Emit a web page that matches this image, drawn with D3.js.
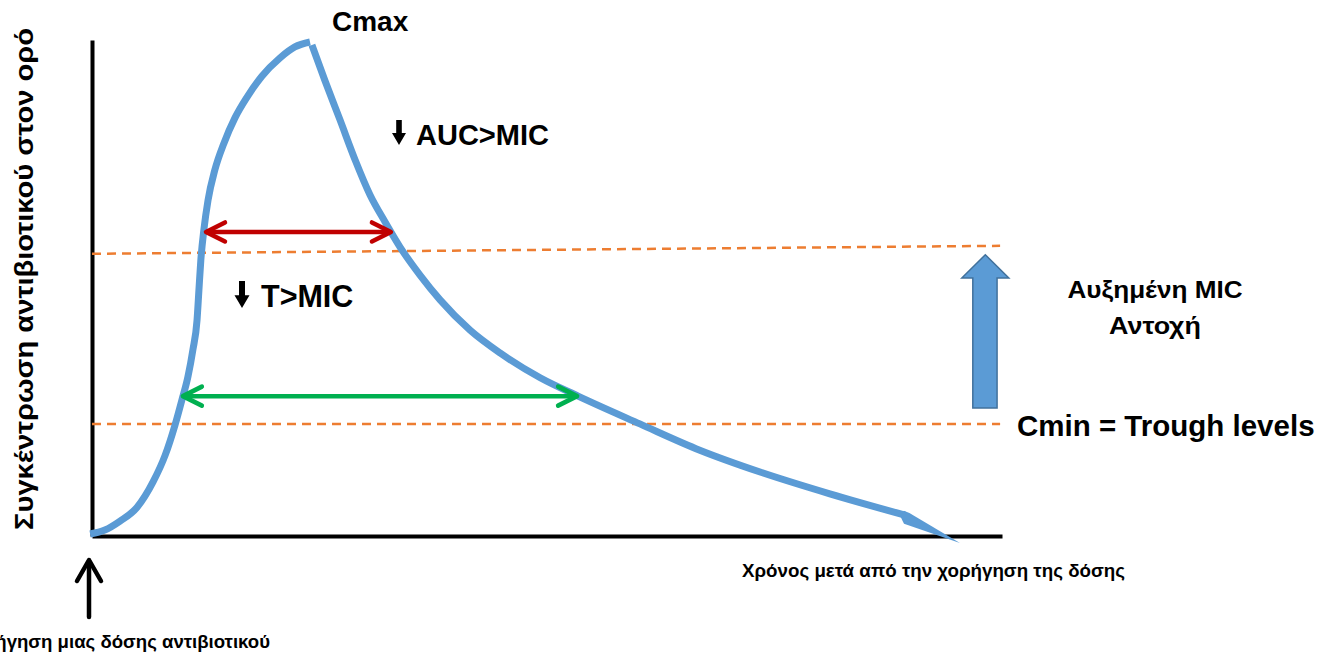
<!DOCTYPE html>
<html>
<head>
<meta charset="utf-8">
<script src="https://cdn.jsdelivr.net/npm/d3@7"></script>
<style>
  html, body { margin: 0; padding: 0; background: #fff; }
  svg { display: block; }
  text { font-family: "Liberation Sans", Arial, sans-serif; font-weight: bold; fill: #000; }
</style>
</head>
<body>
<svg id="chart" width="1324" height="657"></svg>
<script>
// ---- Data (time in h, concentration in arbitrary units) ----
const risingTime  = [-0.05, 0.34, 0.74, 1.19, 1.61, 1.93, 2.19, 2.37, 2.53, 2.66, 2.77, 2.82, 2.87, 2.95, 3.06, 3.24, 3.48, 3.77, 4.09, 4.48, 4.96, 5.35, 5.75];
const risingConc  = [0.4, 1.2, 3.0, 5.8, 10.9, 16.3, 22.4, 27.4, 32.1, 37.5, 43.5, 49.6, 55.6, 61.7, 67.7, 73.8, 79.2, 84.3, 88.5, 92.7, 96.4, 98.6, 99.6];
const fallingTime = [5.80, 6.14, 6.54, 6.94, 7.33, 7.73, 8.12, 8.65, 9.18, 9.97, 10.76, 11.82, 12.82, 14.45, 16.03, 17.62, 19.46, 21.44, 22.89];
const fallingConc = [99.0, 91.9, 83.9, 75.8, 68.8, 63.3, 58.3, 52.6, 47.6, 41.5, 36.9, 31.9, 28.2, 22.6, 17.3, 12.9, 8.5, 4.2, -1.4];

const micLevels   = [[56.9, 58.5], [22.6, 22.6]];   // [start, end] concentration of dashed lines
const micSpan     = [0, 23.95];

const intervalNames = ["T>MIC (high MIC)", "T>MIC (trough)"];
const intervalConc  = [61.3, 28.2];
const intervalStart = [2.98, 2.37];
const intervalEnd   = [7.91, 12.82];
const intervalColor = ["#c00000", "#00b050"];

const resistanceFrom = 25.8;   // conc. at base of block arrow
const resistanceTo   = 56.7;   // conc. at tip of block arrow
const resistanceTime = [22.94, 23.23, 23.87, 24.18]; // head-left, shaft-left, shaft-right, head-right

const labels = {
  cmax: "Cmax",
  auc: "AUC>MIC",
  tmic: "T>MIC",
  mic1: "Αυξημένη MIC",
  mic2: "Αντοχή",
  cmin: "Cmin = Trough levels",
  xTitle: "Χρόνος μετά από την χορήγηση της δόσης",
  yTitle: "Συγκέντρωση αντιβιοτικού στον ορό",
  dose: "Χορήγηση μιας δόσης αντιβιοτικού"
};

// ---- Scales ----
const x = d3.scaleLinear().domain([0, 24]).range([92, 1002]);
const y = d3.scaleLinear().domain([0, 100]).range([536, 40]);

const svg = d3.select("#chart");
const blue = "#5b9bd5";

// axes (no ticks)
svg.append("g").attr("transform", `translate(${x(0)},0)`)
  .call(d3.axisLeft(y).tickValues([]).tickSizeOuter(0))
  .call(g => g.select(".domain").attr("stroke", "#000").attr("stroke-width", 4));
svg.append("g").attr("transform", `translate(0,${y(0)})`)
  .call(d3.axisBottom(x.copy().domain([-0.1, 24])).tickValues([]).tickSizeOuter(0))
  .call(g => g.select(".domain").attr("stroke", "#000").attr("stroke-width", 4));

// MIC dashed lines
micLevels.forEach(lv => {
  svg.append("line")
    .attr("x1", x(micSpan[0])).attr("y1", y(lv[0]))
    .attr("x2", x(micSpan[1])).attr("y2", y(lv[1]))
    .attr("stroke", "#ed7d31").attr("stroke-width", 2.5)
    .attr("stroke-dasharray", "9,6");
});

// concentration curve
const line = d3.line().x(d => x(d[0])).y(d => y(d[1])).curve(d3.curveMonotoneX);
const rising = risingTime.map((t, i) => [t, risingConc[i]]);
const fallingAll = fallingTime.map((t, i) => [t, fallingConc[i]]);
svg.append("path").attr("d", line(rising))
  .attr("fill", "none").attr("stroke", blue).attr("stroke-width", 7);

// falling branch ending in a tapered arrow head
const tip = fallingAll[fallingAll.length - 1];
const prev = fallingAll[fallingAll.length - 2];
const tx = x(tip[0]), ty = y(tip[1]);
const px = x(prev[0]), py = y(prev[1]);
const len = Math.hypot(tx - px, ty - py);
const ux = (tx - px) / len, uy = (ty - py) / len;
const bx = px + ux * 3, by = py + uy * 3;
const falling = fallingAll.slice(0, -1);
svg.append("path").attr("d", line(falling))
  .attr("fill", "none").attr("stroke", blue).attr("stroke-width", 7);
const nx = -uy, ny = ux;
svg.append("path")
  .attr("d", `M${tx},${ty} L${bx + nx * 8},${by + ny * 8} L${bx - ux * 6 + nx * 3.5},${by - uy * 6 + ny * 3.5} L${bx - ux * 6 - nx * 3.5},${by - uy * 6 - ny * 3.5} L${bx - nx * 4},${by - ny * 4} Z`)
  .attr("fill", blue);

// interval double arrows
intervalNames.forEach((n, i) => {
  const yy = y(intervalConc[i]);
  const x1 = x(intervalStart[i]), x2 = x(intervalEnd[i]);
  const g = svg.append("g").attr("stroke", intervalColor[i]).attr("stroke-width", 4.5)
    .attr("fill", "none").attr("stroke-linecap", "round").attr("stroke-linejoin", "round");
  g.append("line").attr("x1", x1 + 2).attr("x2", x2 - 2).attr("y1", yy).attr("y2", yy);
  g.append("path").attr("d", `M${x1 + 20},${yy - 9.5} L${x1 + 1},${yy} L${x1 + 20},${yy + 9.5}`);
  g.append("path").attr("d", `M${x2 - 20},${yy - 9.5} L${x2 - 1},${yy} L${x2 - 20},${yy + 9.5}`);
});

// resistance block arrow
const headBase = resistanceTo - 4.7;
const arrowPts = [
  [resistanceTime[0], headBase],
  [(resistanceTime[0] + resistanceTime[3]) / 2, resistanceTo],
  [resistanceTime[3], headBase],
  [resistanceTime[2], headBase],
  [resistanceTime[2], resistanceFrom],
  [resistanceTime[1], resistanceFrom],
  [resistanceTime[1], headBase]
];
svg.append("path")
  .attr("d", d3.line().x(d => x(d[0])).y(d => y(d[1]))(arrowPts) + "Z")
  .attr("fill", blue).attr("stroke", "#41719c").attr("stroke-width", 1.5);

// dose arrow
const dg = svg.append("g").attr("stroke", "#000").attr("stroke-width", 4.5).attr("fill", "none")
  .attr("stroke-linecap", "round").attr("stroke-linejoin", "round");
dg.append("line").attr("x1", 89).attr("x2", 89).attr("y1", 617).attr("y2", 561);
dg.append("path").attr("d", "M77,581 L89,560 L101,581");

// heavy down-arrow symbols (↓) in front of labels
function heavyArrow(cx, top, bottom, w) {
  const headH = w * 0.85;
  const s = w * 0.2;
  svg.append("path")
    .attr("d", `M${cx - s},${top} L${cx + s},${top} L${cx + s},${bottom - headH} L${cx + w / 2},${bottom - headH} L${cx},${bottom} L${cx - w / 2},${bottom - headH} L${cx - s},${bottom - headH} Z`)
    .attr("fill", "#000");
}
heavyArrow(399, 120, 145, 14);
heavyArrow(242, 281, 308, 15);

// ---- Text ----
svg.append("text").attr("x", 332).attr("y", 31).attr("font-size", 28).text(labels.cmax);
svg.append("text").attr("x", 416).attr("y", 145).attr("font-size", 29).text(labels.auc);
svg.append("text").attr("x", 261).attr("y", 307).attr("font-size", 30.5).text(labels.tmic);
svg.append("text").attr("x", 1155).attr("y", 298).attr("font-size", 24).attr("text-anchor", "middle")
  .attr("textLength", 175).attr("lengthAdjust", "spacingAndGlyphs").text(labels.mic1);
svg.append("text").attr("x", 1155).attr("y", 334).attr("font-size", 24).attr("text-anchor", "middle")
  .attr("textLength", 92).attr("lengthAdjust", "spacingAndGlyphs").text(labels.mic2);
svg.append("text").attr("x", 1017).attr("y", 436).attr("font-size", 29.5).text(labels.cmin);
svg.append("text").attr("x", 742).attr("y", 577).attr("font-size", 17.5)
  .attr("textLength", 383).attr("lengthAdjust", "spacingAndGlyphs").text(labels.xTitle);
svg.append("text").attr("x", 270).attr("y", 648).attr("font-size", 17.5).attr("text-anchor", "end")
  .attr("textLength", 310).attr("lengthAdjust", "spacingAndGlyphs").text(labels.dose);
svg.append("text").attr("transform", "translate(33,279) rotate(-90)")
  .attr("font-size", 26).attr("text-anchor", "middle")
  .attr("textLength", 502).attr("lengthAdjust", "spacingAndGlyphs").text(labels.yTitle);
</script>
</body>
</html>
